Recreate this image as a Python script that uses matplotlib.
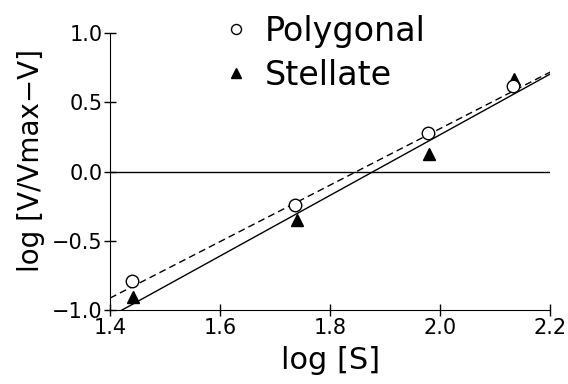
import numpy as np
import matplotlib
matplotlib.use("Agg")
import matplotlib.pyplot as plt

# values
log_s_poly = [1.44, 1.736, 1.978, 2.133]
log_v_poly = [-0.79, -0.245, 0.28, 0.62]
log_s_stell = [1.442, 1.74, 1.98, 2.135]
log_v_stell = [-0.905, -0.35, 0.13, 0.67]

# regression lines (slope, intercept)
fit_poly = (2.04, -3.77)
fit_stell = (2.19, -4.114)

x_ticks = [1.4, 1.6, 1.8, 2.0, 2.2]
y_ticks = [-1.0, -0.5, 0.0, 0.5, 1.0]

plt.rcParams['font.family'] = 'DejaVu Sans'
fig = plt.figure(figsize=(5.68, 3.84), dpi=100)
ax = fig.add_axes([0.1937, 0.1927, 0.775, 0.7213])

xs = np.array([1.4, 2.2])
ax.plot(xs, fit_poly[0] * xs + fit_poly[1], 'k--', lw=1.0, dashes=(5, 3))
ax.plot(xs, fit_stell[0] * xs + fit_stell[1], 'k-', lw=1.0)
ax.axhline(0, color='k', lw=1.0)

ax.plot(log_s_poly, log_v_poly, 'o', mfc='white', mec='k', mew=1.0, ms=9,
        label='Polygonal', zorder=3)
ax.plot(log_s_stell, log_v_stell, '^', color='k', ms=9,
        label='Stellate', zorder=2)

def fmt(t):
    return ('%.1f' % t).replace('-', '\u2212')

ax.set_xlim(1.4, 2.2)
ax.set_ylim(-1.0, 1.0)
ax.set_xticks(x_ticks)
ax.set_yticks(y_ticks)
ax.set_xticklabels([fmt(t) for t in x_ticks])
ax.set_yticklabels([fmt(t) if t != 0 else '0.0' for t in y_ticks])
ax.tick_params(direction='inout', length=9, width=1, labelsize=15, pad=1)
for side in ['top', 'right']:
    ax.spines[side].set_visible(False)

ax.set_xlabel('log [S]', fontsize=22, labelpad=6)
ax.set_ylabel('log [V/Vmax\u2212V]', fontsize=20)
ax.yaxis.set_label_coords(-0.148, 0.54)

ax.legend(loc='upper left', bbox_to_anchor=(0.23, 1.115), frameon=False,
          fontsize=24, handlelength=0.7, handletextpad=0.5, labelspacing=0.33,
          borderaxespad=0, markerscale=0.8)

fig.savefig('out.png', dpi=100)
